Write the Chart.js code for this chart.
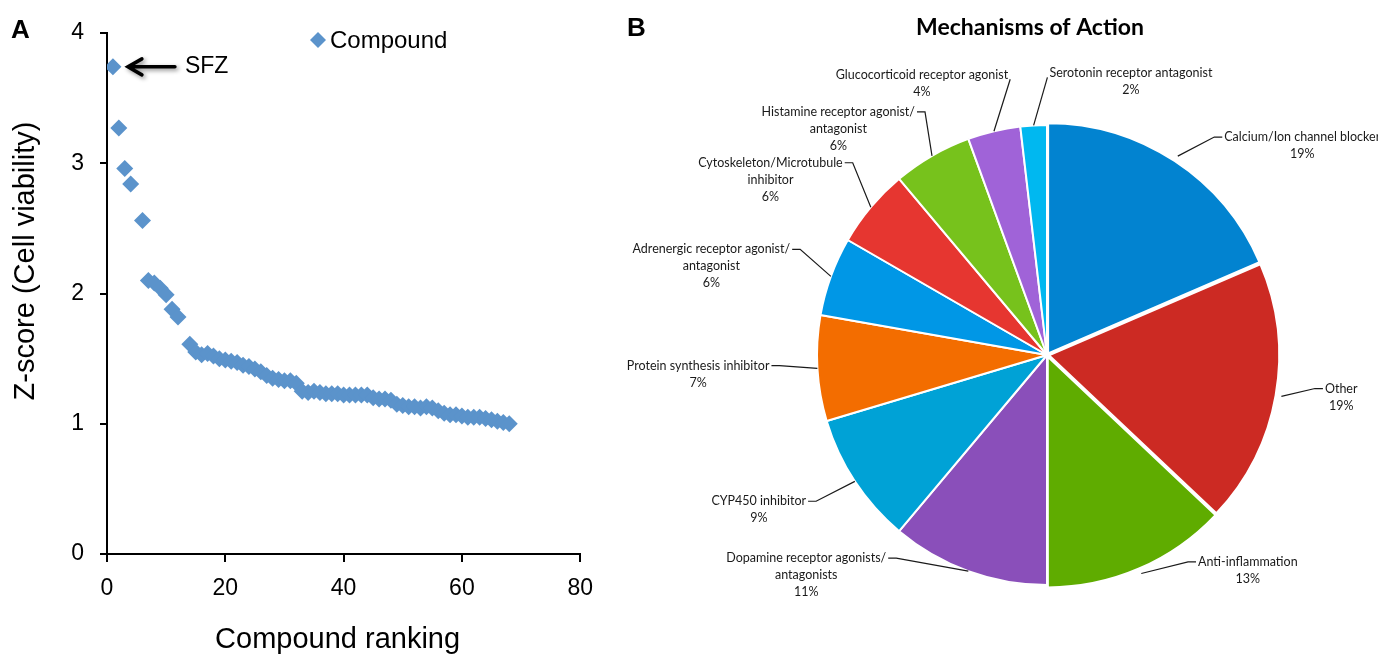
<!DOCTYPE html>
<html>
<head>
<meta charset="utf-8">
<script src="https://cdn.jsdelivr.net/npm/chart.js@4.4.1/dist/chart.umd.min.js"></script>
<style>
  html, body { margin: 0; padding: 0; background: #fff; }
  #wrap { position: relative; width: 1378px; height: 657px; overflow: hidden; }
  #panelA { position: absolute; left: 0; top: 0; }
  #panelB { position: absolute; left: 600px; top: 0; }
</style>
</head>
<body>
<div id="wrap">
  <canvas id="panelA" width="606" height="657"></canvas>
  <canvas id="panelB" width="778" height="657"></canvas>
</div>
<script>
// ---- Panel A: compound ranking vs Z-score ----
const ranks = [1, 2, 3, 4, 6, 7, 8, 9, 10, 11, 12,
  14, 15, 16, 17, 18, 19, 20, 21, 22, 23, 24, 25, 26, 27, 28, 29, 30,
  31, 32, 33, 34, 35, 36, 37, 38, 39, 40, 41, 42, 43, 44, 45, 46, 47, 48, 49, 50,
  51, 52, 53, 54, 55, 56, 57, 58, 59, 60, 61, 62, 63, 64, 65, 66, 67, 68];
const zScores = [3.74, 3.27, 2.96, 2.84, 2.56, 2.10, 2.08, 2.04, 1.99, 1.88, 1.82,
  1.61, 1.55, 1.53, 1.54, 1.52, 1.50, 1.49, 1.48, 1.47, 1.45, 1.44, 1.42, 1.40, 1.37, 1.35, 1.34, 1.33,
  1.33, 1.31, 1.25, 1.24, 1.25, 1.24, 1.23, 1.23, 1.23, 1.22, 1.22, 1.22, 1.22, 1.22, 1.20, 1.19, 1.19, 1.18, 1.15, 1.14,
  1.13, 1.13, 1.12, 1.13, 1.12, 1.10, 1.08, 1.07, 1.07, 1.06, 1.05, 1.05, 1.05, 1.04, 1.03, 1.02, 1.01, 1.00];
const xTicks = [0, 20, 40, 60, 80];
const yTicks = [0, 1, 2, 3, 4];
const seriesName = 'Compound';
const highlighted = 'SFZ';   // top hit, rank 1

// ---- Panel B: mechanisms of action ----
const mechanisms = [
  ['Calcium/Ion channel blocker'],
  ['Other'],
  ['Anti-inflammation'],
  ['Dopamine receptor agonists/', 'antagonists'],
  ['CYP450 inhibitor'],
  ['Protein synthesis inhibitor'],
  ['Adrenergic receptor agonist/', 'antagonist'],
  ['Cytoskeleton/Microtubule', 'inhibitor'],
  ['Histamine receptor agonist/', 'antagonist'],
  ['Glucocorticoid receptor agonist'],
  ['Serotonin receptor antagonist']
];
const compoundCounts = [10, 10, 7, 6, 5, 4, 3, 3, 3, 2, 1];

const sliceColors = ['#0283d0', '#cc2a23', '#5fac00', '#8a4fba', '#00a2d6', '#f36d00',
  '#0097e6', '#e63630', '#77c21c', '#a063d8', '#00b8f0'];
const sliceOffsets = [8, 8, 8, 0, 0, 0, 0, 0, 0, 0, 0];
// small hand tweaks so the callouts sit where Excel put them
const labelNudge = [[20, 6], [4, -13], [44, -18], [-67, -27], [-7, -1], [0, -5],
  [5, -14], [11, -20], [12, -11], [25, -15], [16, -10]];

const sans = '"Liberation Sans", Arial, sans-serif';
const calibriLike = 'Lato, "Open Sans", sans-serif';
Chart.defaults.font.family = sans;
Chart.defaults.color = '#000';

const panelAExtras = {
  id: 'panelAExtras',
  afterDatasetsDraw(chart) {
    const { ctx, chartArea } = chart;
    ctx.save();
    ctx.fillStyle = '#000';
    ctx.textAlign = 'left';
    ctx.textBaseline = 'alphabetic';
    ctx.font = 'bold 26px ' + sans;
    ctx.fillText('A', 11, 38);

    // axis titles
    ctx.font = '29px ' + sans;
    ctx.textAlign = 'center';
    ctx.fillText('Compound ranking', (chartArea.left + chartArea.right) / 2 - 6, 648);
    ctx.save();
    ctx.translate(34, 261);
    ctx.rotate(-Math.PI / 2);
    ctx.fillText('Z-score (Cell viability)', 0, 0);
    ctx.restore();

    // legend entry
    const ds = chart.data.datasets[0];
    const lx = chartArea.left + 211, ly = chartArea.top + 7;
    ctx.fillStyle = ds.backgroundColor;
    ctx.beginPath();
    ctx.moveTo(lx - 8, ly); ctx.lineTo(lx, ly - 8); ctx.lineTo(lx + 8, ly); ctx.lineTo(lx, ly + 8);
    ctx.closePath();
    ctx.fill();
    ctx.fillStyle = '#000';
    ctx.font = '24px ' + sans;
    ctx.textAlign = 'left';
    ctx.textBaseline = 'middle';
    ctx.fillText(ds.label, lx + 12, ly + 1);

    // SFZ arrow pointing at the first point
    const p = chart.getDatasetMeta(0).data[0];
    const ax = p.x + 15, ay = p.y;
    ctx.save();
    ctx.shadowColor = 'rgba(0,0,0,0.45)';
    ctx.shadowBlur = 4;
    ctx.shadowOffsetX = 2;
    ctx.shadowOffsetY = 2;
    ctx.strokeStyle = '#000';
    ctx.lineWidth = 3.5;
    ctx.lineCap = 'round';
    ctx.beginPath();
    ctx.moveTo(p.x + 62, ay); ctx.lineTo(ax + 1, ay);
    ctx.moveTo(ax + 14, ay - 8); ctx.lineTo(ax, ay); ctx.lineTo(ax + 14, ay + 8);
    ctx.stroke();
    ctx.restore();
    ctx.font = '23px ' + sans;
    ctx.fillText(highlighted, p.x + 72, ay);
    ctx.restore();
  }
};

new Chart(document.getElementById('panelA'), {
  type: 'scatter',
  data: {
    datasets: [{
      label: seriesName,
      data: ranks.map((r, i) => ({ x: r, y: zScores[i] })),
      backgroundColor: '#5b93cb',
      borderWidth: 0,
      pointStyle: 'rectRot',
      pointRadius: 8.5
    }]
  },
  options: {
    responsive: false,
    animation: false,
    layout: { padding: { left: 0, top: 33, right: 20, bottom: 0 } },
    plugins: { legend: { display: false }, tooltip: { enabled: false } },
    scales: {
      x: {
        type: 'linear', min: xTicks[0], max: xTicks[xTicks.length - 1],
        afterBuildTicks: s => { s.ticks = xTicks.map(v => ({ value: v })); },
        afterFit: s => { s.height = 103; },
        ticks: { font: { size: 23 }, color: '#000', padding: 13 },
        grid: { drawOnChartArea: false, drawTicks: true, tickLength: 8, color: '#000', lineWidth: 2 },
        border: { color: '#000', width: 2 }
      },
      y: {
        type: 'linear', min: yTicks[0], max: yTicks[yTicks.length - 1],
        afterBuildTicks: s => { s.ticks = yTicks.map(v => ({ value: v })); },
        afterFit: s => { s.width = 107; },
        ticks: { font: { size: 23 }, color: '#000', padding: 16 },
        grid: { drawOnChartArea: false, drawTicks: true, tickLength: 7, color: '#000', lineWidth: 2 },
        border: { color: '#000', width: 2 }
      }
    }
  },
  plugins: [panelAExtras]
});

const pieLabels = {
  id: 'pieLabels',
  afterDatasetsDraw(chart) {
    const { ctx } = chart;
    const values = chart.data.datasets[0].data;
    const total = values.reduce((a, b) => a + b, 0);
    ctx.save();
    ctx.fillStyle = '#000';
    ctx.textAlign = 'left';
    ctx.textBaseline = 'middle';
    ctx.font = 'bold 26px ' + sans;
    ctx.fillText('B', 27, 29);
    ctx.font = 'bold 23px ' + calibriLike;
    ctx.textAlign = 'center';
    ctx.fillText('Mechanisms of Action', 430, 28);

    ctx.font = '12.5px ' + calibriLike;
    ctx.fillStyle = '#1a1a1a';
    ctx.strokeStyle = '#1a1a1a';
    ctx.lineWidth = 1.2;
    chart.getDatasetMeta(0).data.forEach((arc, i) => {
      const mid = (arc.startAngle + arc.endAngle) / 2;
      const dx = Math.cos(mid), dy = Math.sin(mid);
      const r0 = arc.outerRadius + (arc.options.offset || 0);
      const x0 = arc.x + dx * r0, y0 = arc.y + dy * r0;
      const reach = arc.outerRadius + (dy > 0.8 ? 15 : 38);
      const ex = arc.x + dx * reach + labelNudge[i][0];
      const ey = arc.y + dy * reach + labelNudge[i][1];
      const side = ex >= arc.x ? 1 : -1;
      const tail = Math.abs(dx) < 0.3 ? 0 : 8;
      ctx.beginPath();
      ctx.moveTo(x0, y0);
      ctx.lineTo(ex, ey);
      ctx.lineTo(ex + side * tail, ey);
      ctx.stroke();

      const lines = [].concat(chart.data.labels[i], Math.round(values[i] / total * 100) + '%');
      const w = Math.max(...lines.map(t => ctx.measureText(t).width));
      const edge = ex + side * (tail + 2);
      const tx = side > 0 ? edge + w / 2 : edge - w / 2;
      const ty = tail ? ey : ey - 4;
      lines.forEach((t, k) => ctx.fillText(t, tx, ty + k * 17));
    });
    ctx.restore();
  }
};

new Chart(document.getElementById('panelB'), {
  type: 'pie',
  data: {
    labels: mechanisms,
    datasets: [{
      data: compoundCounts,
      backgroundColor: sliceColors,
      borderColor: '#fff',
      borderWidth: 2,
      hoverBorderWidth: 2,
      offset: sliceOffsets,
      hoverOffset: 0
    }]
  },
  options: {
    responsive: false,
    animation: false,
    layout: { padding: { left: 212, top: 120, right: 96, bottom: 67 } },
    plugins: { legend: { display: false }, tooltip: { enabled: false } }
  },
  plugins: [pieLabels]
});
</script>
</body>
</html>
